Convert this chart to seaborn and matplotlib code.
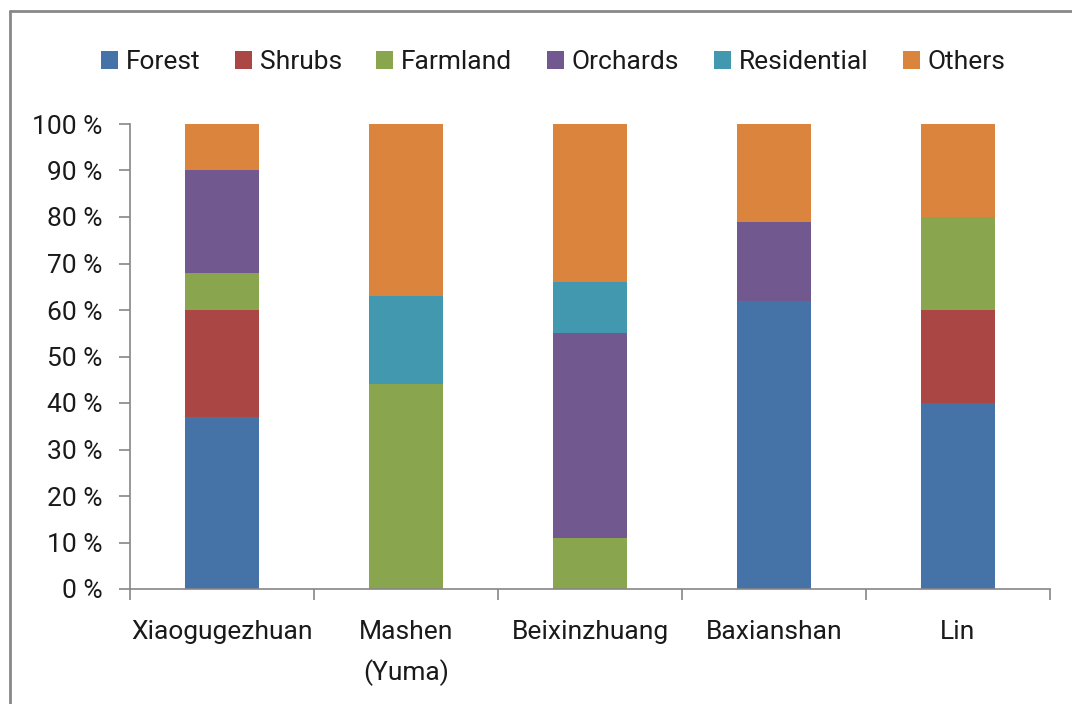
import numpy as np
import pandas as pd
import seaborn as sns
import matplotlib.pyplot as plt
from matplotlib.lines import Line2D
from matplotlib.ticker import FixedLocator

sites = ["Xiaogugezhuan", "Mashen\n(Yuma)", "Beixinzhuang", "Baxianshan", "Lin"]
covers = ["Forest", "Shrubs", "Farmland", "Orchards", "Residential", "Others"]
forest = [37, 0, 0, 62, 40]
shrubs = [23, 0, 0, 0, 20]
farmland = [8, 44, 11, 0, 20]
orchards = [22, 0, 44, 17, 0]
residential = [0, 19, 11, 0, 0]
others = [10, 37, 34, 21, 20]
colors = ["#4572A7", "#AA4643", "#89A54E", "#71588F", "#4198AF", "#DB843D"]
yticks = [0, 10, 20, 30, 40, 50, 60, 70, 80, 90, 100]

sns.set_theme(style="white")
plt.rcParams["font.family"] = ["Roboto", "DejaVu Sans"]

df = pd.DataFrame({"site": sites, "Forest": forest, "Shrubs": shrubs, "Farmland": farmland,
                   "Orchards": orchards, "Residential": residential, "Others": others})
# cumulative tops, drawn from the top layer down so each bar covers the one above
cum = df[covers].cumsum(axis=1)

fig = plt.figure(figsize=(10.72, 7.04), dpi=100)
ax = fig.add_axes([130 / 1072, 1 - 589 / 704, 920 / 1072, 465 / 704])

for cover, color in reversed(list(zip(covers, colors))):
    sns.barplot(x=df["site"], y=cum[cover], color=color, width=0.4, linewidth=0,
                saturation=1, ax=ax, label=cover)

handles, labels = ax.get_legend_handles_labels()
if ax.get_legend() is not None:
    ax.get_legend().remove()

ax.set_xlim(-0.5, len(sites) - 0.5)
ax.set_ylim(0, 100)
ax.set_yticks(yticks)
ax.set_yticklabels([f"{v} %" for v in yticks])
ax.set_xlabel("")
ax.set_ylabel("")

ax.xaxis.set_minor_locator(FixedLocator(np.arange(-0.5, len(sites), 1.0)))
ax.tick_params(axis="x", which="major", length=0, pad=22, labelsize=19, colors="#1a1a1a")
ax.tick_params(axis="x", which="minor", length=8, width=1.2, color="#868686", direction="out", bottom=True)
ax.tick_params(axis="y", which="major", length=8, width=1.2, color="#868686", direction="out",
               left=True, pad=12, labelsize=19, labelcolor="#1a1a1a")
for lbl in ax.get_xticklabels():
    lbl.set_linespacing(1.75)

sns.despine(ax=ax)
for side in ["left", "bottom"]:
    ax.spines[side].set_color("#868686")
    ax.spines[side].set_linewidth(1.2)

order = [labels.index(c) for c in covers]
fig.legend([handles[i] for i in order], [labels[i] for i in order], loc="center",
           bbox_to_anchor=(0.516, 1 - 62 / 704), ncol=6, frameon=False, fontsize=19,
           handlelength=0.65, handleheight=0.65, handletextpad=0.3, columnspacing=1.3,
           labelcolor="#1a1a1a")

# outer chart border (left and top edges only show in the reference)
x0, y0 = 10 / 1072, 1 - 11 / 704
fig.add_artist(Line2D([x0, x0], [0, y0], transform=fig.transFigure, color="#888888", linewidth=2))
fig.add_artist(Line2D([x0, 1], [y0, y0], transform=fig.transFigure, color="#888888", linewidth=2))

fig.savefig("out.png", dpi=100)
